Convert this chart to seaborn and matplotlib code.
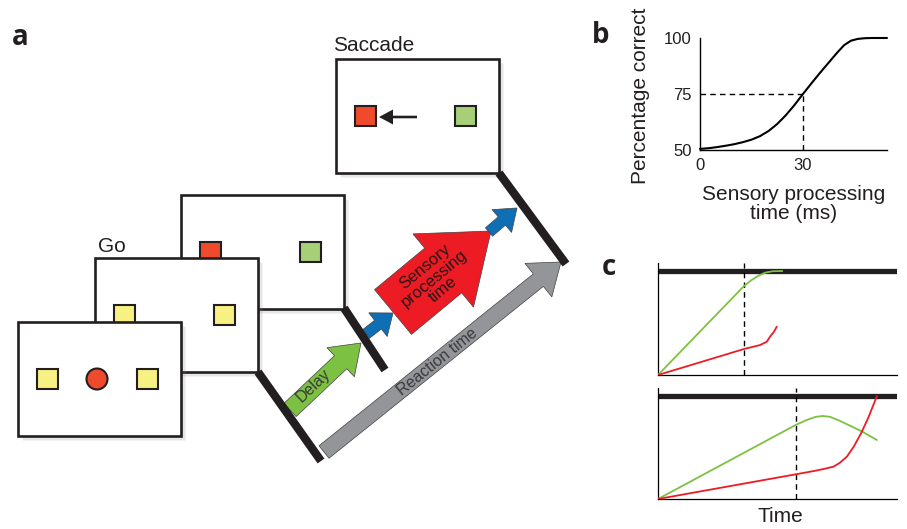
import numpy as np
import matplotlib.pyplot as plt
import matplotlib.patches as mpatches
import seaborn as sns

sns.set_style('white')
plt.rcParams['font.family'] = ['Liberation Sans', 'DejaVu Sans']

# ---- panel a: schematic geometry (pixel units of the figure) ----
frame_xy = [(181, 195), (95, 258), (18, 322), (336, 59)]   # back to front, then saccade
frame_w, frame_h = 163, 114
frame_items = [['red', 'green'], ['yellow', 'yellow'], ['yellow', 'yellow'], ['red', 'green']]
fill = {'red': '#ef4a2c', 'green': '#a6cf78', 'yellow': '#f7f183'}

bars = [((258, 372), (321, 461)), ((344, 308), (385, 370)), ((499, 173), (566, 264))]

# name: start, end, shaft width, head width, head length, colour
arrows = {
    'reaction': ((324, 452), (561, 262), 16, 43, 29, '#939598'),
    'delay': ((290, 410), (361, 343), 18, 40, 28, '#7dc142'),
    'blue1': ((366, 334), (393, 313), 11, 30, 19, '#0f6fb5'),
    'sensory': ((393, 312), (491, 231), 58, 95, 62, '#ed1c24'),
    'blue2': ((489, 232), (517, 208), 11, 30, 20, '#0f6fb5'),
}
arrow_text = {'reaction': 'Reaction time', 'delay': 'Delay',
              'sensory': 'Sensory\nprocessing\ntime'}
text_pos = {'reaction': (437, 362), 'delay': (313, 386), 'sensory': (434, 278)}

# ---- panel b: psychometric curve ----
spt_ms = [0, 2.5, 5, 7.5, 10, 12.5, 15, 17.5, 20, 22.5, 25, 27.5, 30, 32.5, 35,
          37.5, 40, 42, 44, 46, 48, 50, 54.5]
pct_correct = [50.5, 50.8, 51.3, 51.9, 52.6, 53.5, 54.6, 56.2, 58.5, 61.6, 65.5, 70, 75,
               79.8, 84.5, 89, 93.5, 96.8, 98.8, 99.6, 99.9, 100, 100]

# ---- panel c: accumulators ----
top_green_t = [0, 36, 39, 42, 45, 48, 52]
top_green_y = [0, 85.6, 91, 95.5, 98.5, 99.8, 100]
top_red_t = [0, 36, 42.7, 45.5, 46.9, 48.5, 49.7]
top_red_y = [0, 25, 28.8, 32, 36.9, 41.5, 46.5]
bot_green_t = [0, 57.7, 62.2, 66, 69, 72, 76, 80, 85, 91.6]
bot_green_y = [0, 72, 76.7, 79.8, 80.6, 79.8, 76, 71.5, 66, 57.3]
bot_red_t = [0, 57.7, 66, 70, 73.4, 76, 79, 81.9, 85, 88, 91.6]
bot_red_y = [0, 24, 27.5, 29.5, 31.4, 35, 41, 50.8, 64, 79, 100]
top_dash_t, bot_dash_t = 36, 57.7

W, H = 907, 529
fig = plt.figure(figsize=(W / 100, H / 100), dpi=100)

ax = fig.add_axes([0, 0, 1, 1])
ax.set_xlim(0, W)
ax.set_ylim(H, 0)
ax.axis('off')

ink = '#231f20'
for i, (x0, y0) in enumerate(frame_xy):
    z = 2 + i * 2
    for off in [5, 3.5, 2]:
        ax.add_patch(mpatches.Rectangle((x0 + off, y0 + off), frame_w, frame_h,
                                        color='#808285', alpha=0.10, lw=0, zorder=z))
    ax.add_patch(mpatches.Rectangle((x0, y0), frame_w, frame_h, fc='white',
                                    ec=ink, lw=1.9, zorder=z + 0.5))
    left, right = frame_items[i]
    for dx, c in [(19, left), (119, right)]:
        ax.add_patch(mpatches.Rectangle((x0 + dx, y0 + 47), 21, 20, fc=fill[c],
                                        ec=ink, lw=1.5, zorder=z + 1))
    if i == 2:
        ax.add_patch(mpatches.Circle((x0 + 79, y0 + 57), 10.5, fc='#ef4a2c', ec=ink,
                                     lw=1.5, zorder=z + 1))
    if i == 3:
        ax.add_patch(mpatches.FancyArrow(x0 + 81, y0 + 58, -38, 0, width=2.6,
                                         head_width=15, head_length=14,
                                         length_includes_head=True, color=ink, lw=0,
                                         zorder=z + 1))

for (p, q) in bars:
    ax.plot([p[0], q[0]], [p[1], q[1]], color=ink, lw=6, solid_capstyle='butt', zorder=12)

for name, (s, e, w, hw, hl, col) in arrows.items():
    ax.add_patch(mpatches.FancyArrow(s[0], s[1], e[0] - s[0], e[1] - s[1], width=w,
                                     head_width=hw, head_length=hl,
                                     length_includes_head=True, fc=col,
                                     ec='#414042', lw=0.5, zorder=11))
    if name in arrow_text:
        ang = np.degrees(np.arctan2(s[1] - e[1], e[0] - s[0]))
        ax.text(*text_pos[name], arrow_text[name], rotation=ang, rotation_mode='anchor',
                ha='center', va='center', fontsize=12 if name == 'sensory' else 11.5,
                linespacing=0.95,
                color='#3a3a3c' if name != 'sensory' else '#2a1416', zorder=13)

ax.text(333, 51, 'Saccade', fontsize=15, color=ink, va='baseline')
ax.text(98, 252, 'Go', fontsize=15, color=ink, va='baseline')
for lab, x, y in [('a', 12, 45), ('b', 592, 43), ('c', 602, 275)]:
    ax.text(x, y, lab, fontsize=20, fontweight='bold', color=ink, va='baseline',
            family=['Open Sans', 'DejaVu Sans'])


def px_axes(left, right, bottom, top):
    return fig.add_axes([left / W, (H - bottom) / H, (right - left) / W, (bottom - top) / H])


# panel b
axb = px_axes(700, 887, 150, 38)
sns.lineplot(x=spt_ms, y=pct_correct, ax=axb, color='black', lw=1.5)
axb.lines[0].set_clip_on(False)
axb.plot([0, 30], [75, 75], color='black', lw=1, ls=(0, (4, 3)))
axb.plot([30, 30], [50, 75], color='black', lw=1, ls=(0, (4, 3)))
axb.set_xlim(0, 54.5)
axb.set_ylim(50, 100)
axb.set_xticks([0, 30])
axb.set_yticks([50, 75, 100])
axb.tick_params(length=0, labelsize=12, pad=6, colors=ink)
for side in ['top', 'right']:
    axb.spines[side].set_visible(False)
for side in ['left', 'bottom']:
    axb.spines[side].set_color('black')
    axb.spines[side].set_linewidth(1.0)
axb.set_ylabel('Percentage correct', fontsize=15, va='center', color=ink)
axb.yaxis.set_label_coords(-0.32, 0.48)
axb.set_xlabel('Sensory processing\ntime (ms)', fontsize=15, va='center',
               linespacing=1.0, color=ink)
axb.xaxis.set_label_coords(0.5, -0.48)
axb.patch.set_alpha(0)

# panel c
panels = [
    (px_axes(658, 897, 375, 263), top_green_t, top_green_y, top_red_t, top_red_y, top_dash_t, 107.7),
    (px_axes(658, 897, 499, 388), bot_green_t, bot_green_y, bot_red_t, bot_red_y, bot_dash_t, 107.8),
]
for axc, gt, gy, rt, ry, dt, ytop in panels:
    axc.axhline(100, color=ink, lw=3.8, solid_capstyle='butt', zorder=1)
    axc.axvline(dt, color='black', lw=1, ls=(0, (4, 3)), zorder=2)
    sns.lineplot(x=gt, y=gy, ax=axc, color='#7dc142', lw=1.3, zorder=3)
    sns.lineplot(x=rt, y=ry, ax=axc, color='#ed1c24', lw=1.3, zorder=3)
    axc.set_xlim(0, 100)
    axc.set_ylim(0, ytop)
    axc.set_xticks([])
    axc.set_yticks([])
    for side in ['top', 'right']:
        axc.spines[side].set_visible(False)
    for side in ['left', 'bottom']:
        axc.spines[side].set_color('black')
        axc.spines[side].set_linewidth(0.9)
    axc.patch.set_alpha(0)

axc = panels[1][0]
axc.set_xlabel('Time', fontsize=15, va='center', color=ink)
axc.xaxis.set_label_coords(0.51, -0.16)

fig.savefig('out.png', dpi=100)
